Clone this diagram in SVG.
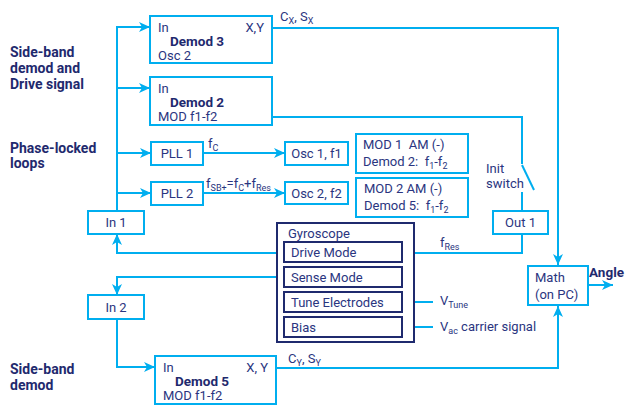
<svg xmlns="http://www.w3.org/2000/svg" width="626" height="406" viewBox="0 0 626 406">
<defs>
<marker id="ah" markerUnits="userSpaceOnUse" markerWidth="12" markerHeight="12" viewBox="0 0 12 12" refX="11" refY="6" orient="auto">
<path d="M0,1 L11,6 L0,11 L3,6 Z" fill="#00AEEF"/>
</marker>
<style>
.b{fill:#fff;stroke:#00AEEF;stroke-width:2}
.g{fill:#fff;stroke:#1F2A6E;stroke-width:2}
.c{fill:none;stroke:#00AEEF;stroke-width:2}
.ca{fill:none;stroke:#00AEEF;stroke-width:2;marker-end:url(#ah)}
text{font-family:Roboto,"Liberation Sans",sans-serif;font-size:13px;fill:#2A3580;white-space:pre}
.bd{font-weight:bold;fill:#1F2A6E;font-size:13.5px}
.lb{font-weight:bold;fill:#1F2A6E;font-size:14px}
.s{font-size:9px}
</style>
</defs>
<g id="connectors">
<path class="ca" d="M117,211 V27 H150"/>
<path class="ca" d="M117,88 H150"/>
<path class="ca" d="M117,153 H151"/>
<path class="ca" d="M117,193 H151"/>
<path class="ca" d="M272,28 H558 V265"/>
<path class="c" d="M272,117 H522 V164"/>
<path class="c" d="M522,165 L534,190"/>
<path class="c" d="M522,192 V211"/>
<path class="ca" d="M522,234 V253 H403"/>
<path class="ca" d="M284,253 H117 V234"/>
<path class="ca" d="M284,277 H117 V295"/>
<path class="ca" d="M117,319 V367 H155"/>
<path class="ca" d="M276,368 H558 V306"/>
<path class="ca" d="M589,285 H613"/>
<path class="ca" d="M433,302 H403"/>
<path class="ca" d="M433,327 H403"/>
<path class="ca" d="M203,153 H285"/>
<path class="ca" d="M203,193 H285"/>
</g>
<g id="labels">
<text class="lb" x="10" y="57">Side-band</text>
<text class="lb" x="10" y="73">demod and</text>
<text class="lb" x="10" y="89">Drive signal</text>
<text class="lb" x="10" y="153">Phase-locked</text>
<text class="lb" x="10" y="168">loops</text>
<text class="lb" x="10" y="374">Side-band</text>
<text class="lb" x="10" y="390">demod</text>
<text x="280" y="21">C<tspan class="s" dy="3">X</tspan><tspan dy="-3">, S</tspan><tspan class="s" dy="3">X</tspan></text>
<text x="208" y="148">f<tspan class="s" dy="3">C</tspan></text>
<text x="206" y="188">f<tspan class="s" dy="3">SB+</tspan><tspan dy="-3">=f</tspan><tspan class="s" dy="3">C</tspan><tspan dy="-3">+f</tspan><tspan class="s" dy="3">Res</tspan></text>
<text x="440" y="247">f<tspan class="s" dy="3">Res</tspan></text>
<text x="440" y="305">V<tspan class="s" dy="3">Tune</tspan></text>
<text x="440" y="331">V<tspan class="s" dy="3">ac</tspan><tspan dy="-3"> carrier signal</tspan></text>
<text x="288" y="363">C<tspan class="s" dy="3">Y</tspan><tspan dy="-3">, S</tspan><tspan class="s" dy="3">Y</tspan></text>
<text x="486" y="173">Init</text>
<text x="486" y="188">switch</text>
<text class="lb" x="589" y="277" style="font-size:13.5px">Angle</text>
</g>
<g id="demod3">
<rect class="b" x="150" y="16" width="122" height="47"/>
<text x="158" y="32">In</text>
<text x="264" y="32" text-anchor="end">X,Y</text>
<text class="bd" x="170" y="46">Demod 3</text>
<text x="158" y="60">Osc 2</text>
</g>
<g id="demod2">
<rect class="b" x="150" y="77" width="122" height="48"/>
<text x="158" y="93">In</text>
<text class="bd" x="170" y="107">Demod 2</text>
<text x="158" y="121">MOD f1-f2</text>
</g>
<g id="pll1">
<rect class="b" x="151" y="142" width="52" height="23"/>
<text x="177" y="158" text-anchor="middle">PLL 1</text>
</g>
<g id="pll2">
<rect class="b" x="151" y="182" width="52" height="23"/>
<text x="177" y="198" text-anchor="middle">PLL 2</text>
</g>
<g id="osc1">
<rect class="b" x="285" y="142" width="63" height="23"/>
<text x="316.5" y="158" text-anchor="middle">Osc 1, f1</text>
</g>
<g id="osc2">
<rect class="b" x="285" y="182" width="63" height="22"/>
<text x="316.5" y="198" text-anchor="middle">Osc 2, f2</text>
</g>
<g id="mod1">
<rect class="b" x="356" y="134" width="112" height="39"/>
<text x="363" y="149">MOD 1  AM (-)</text>
<text x="363" y="166">Demod 2:  f<tspan class="s" dy="3">1</tspan><tspan dy="-3">-f</tspan><tspan class="s" dy="3">2</tspan></text>
</g>
<g id="mod2">
<rect class="b" x="356" y="178" width="112" height="39"/>
<text x="364" y="193">MOD 2 AM (-)</text>
<text x="364" y="210">Demod 5:  f<tspan class="s" dy="3">1</tspan><tspan dy="-3">-f</tspan><tspan class="s" dy="3">2</tspan></text>
</g>
<g id="in1">
<rect class="b" x="88" y="211" width="56" height="23"/>
<text x="116" y="227" text-anchor="middle">In 1</text>
</g>
<g id="in2">
<rect class="b" x="88" y="295" width="56" height="24"/>
<text x="116" y="312" text-anchor="middle">In 2</text>
</g>
<g id="out1">
<rect class="b" x="493" y="211" width="55" height="23"/>
<text x="520.5" y="227" text-anchor="middle">Out 1</text>
</g>
<g id="math">
<rect class="b" x="528" y="266" width="60" height="39"/>
<text x="535" y="282">Math</text>
<text x="535" y="299">(on PC)</text>
</g>
<g id="gyroscope">
<rect class="g" x="277" y="223" width="137" height="119"/>
<text x="288" y="238">Gyroscope</text>
</g>
<g id="drive-mode">
<rect class="g" x="284" y="242" width="118" height="20"/>
<text x="291" y="257">Drive Mode</text>
</g>
<g id="sense-mode">
<rect class="g" x="284" y="267" width="118" height="20"/>
<text x="291" y="282">Sense Mode</text>
</g>
<g id="tune-electrodes">
<rect class="g" x="284" y="292" width="118" height="20"/>
<text x="291" y="307">Tune Electrodes</text>
</g>
<g id="bias">
<rect class="g" x="284" y="317" width="118" height="20"/>
<text x="291" y="332">Bias</text>
</g>
<g id="demod5">
<rect class="b" x="155" y="356" width="121" height="48"/>
<text x="163" y="372">In</text>
<text x="268" y="372" text-anchor="end">X, Y</text>
<text class="bd" x="175" y="386">Demod 5</text>
<text x="163" y="400">MOD f1-f2</text>
</g>
</svg>
